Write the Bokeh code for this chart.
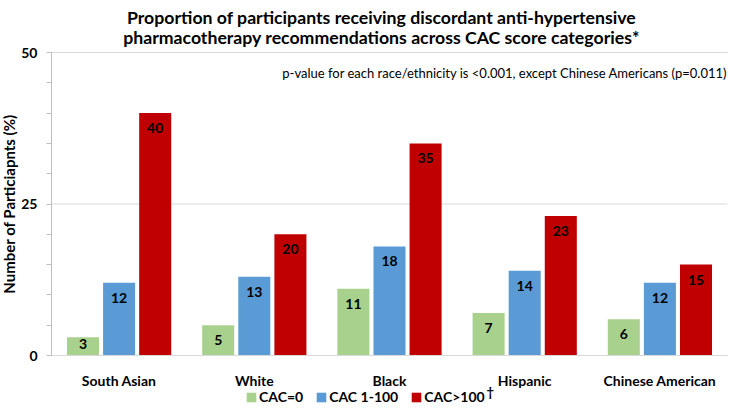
from bokeh.plotting import figure
from bokeh.models import (ColumnDataSource, FixedTicker, Range1d, Label, Legend, LegendItem)
from bokeh.core.properties import value
from bokeh.embed import file_html
from bokeh.resources import INLINE

# ---- data ----
groups = ["South Asian", "White", "Black", "Hispanic", "Chinese American"]
series_names = ["CAC=0", "CAC 1-100", "CAC>100"]
cac_0 = [3, 5, 11, 7, 6]
cac_1_100 = [12, 13, 18, 14, 12]
cac_gt_100 = [40, 20, 35, 23, 15]
y_major_ticks = [0, 25, 50]
y_minor_ticks = [5, 10, 15, 20, 30, 35, 40, 45]
title_lines = ["Proportion of participants receiving discordant anti-hypertensive",
               "pharmacotherapy recommendations across CAC score categories*"]
note_text = "p-value for each race/ethnicity is <0.001, except Chinese Americans (p=0.011)"
y_label = "Number of Particiapnts (%)"
dagger = "\u2020"

colors = ["#A9D18E", "#5B9BD5", "#C00000"]
FONT = "Lato"

# ---- layout (pixels) ----
W, H = 729, 408
PLOT_L, PLOT_R, PLOT_T, PLOT_B = 51, 727, 52, 355
ppx = (PLOT_R - PLOT_L) / 5.0          # px per category
ppy = (PLOT_B - PLOT_T) / 50.0         # px per y unit
x0, x1 = -0.5 - PLOT_L / ppx, 4.5 + (W - PLOT_R) / ppx
y0, y1 = -(H - PLOT_B) / ppy, 50 + PLOT_T / ppy

p = figure(width=W, height=H, x_range=Range1d(x0, x1), y_range=Range1d(y0, y1),
           output_backend="svg", toolbar_location=None, title=None,
           min_border_left=0, min_border_right=0, min_border_top=0, min_border_bottom=0)
p.outline_line_color = None
p.xgrid.visible = False
p.ygrid.visible = False

# gridlines (only inside the plot area)
grid_vals = [t for t in y_major_ticks if t > 0]
p.segment(x0=[-0.5] * len(grid_vals), x1=[4.5] * len(grid_vals), y0=grid_vals, y1=grid_vals,
          line_color="#D9D9D9", line_width=1)

offsets = [-0.267, 0.0, 0.267]
bar_w = 0.237
renderers = []
for k, vals in enumerate([cac_0, cac_1_100, cac_gt_100]):
    xs = [i + offsets[k] for i in range(len(groups))]
    off_px = [min(15.0, v * ppy - 12.0) for v in vals]
    ly = [v - o / ppy for v, o in zip(vals, off_px)]
    src = ColumnDataSource(dict(x=xs, top=vals, ly=ly, lab=[str(v) for v in vals]))
    r = p.vbar(x="x", top="top", width=bar_w, source=src, fill_color=colors[k], line_color=None)
    renderers.append(r)
    p.text(x="x", y="ly", text="lab", source=src, text_align="center", text_baseline="middle",
           text_font=value(FONT), text_font_size="14px", text_font_style="bold", text_color="black")

# axes drawn at fixed positions inside the canvas
p.xaxis.fixed_location = 0
p.xaxis.bounds = (-0.5, 4.5)
p.xaxis.ticker = FixedTicker(ticks=list(range(len(groups))))
p.xaxis.major_label_overrides = {i: g for i, g in enumerate(groups)}
p.xaxis.major_tick_line_color = None
p.xaxis.minor_tick_line_color = None
p.xaxis.major_tick_out = 0
p.xaxis.axis_line_color = "#D9D9D9"
p.xaxis.major_label_text_font = FONT
p.xaxis.major_label_text_font_size = "14px"
p.xaxis.major_label_text_font_style = "bold"
p.xaxis.major_label_text_color = "black"
p.xaxis.major_label_standoff = 16

p.yaxis.fixed_location = -0.5
p.yaxis.bounds = (0, 50)
p.yaxis.ticker = FixedTicker(ticks=y_major_ticks, minor_ticks=y_minor_ticks)
p.yaxis.axis_line_color = "#BFBFBF"
p.yaxis.major_tick_line_color = "#BFBFBF"
p.yaxis.minor_tick_line_color = "#BFBFBF"
p.yaxis.major_tick_out = 5
p.yaxis.major_tick_in = 0
p.yaxis.minor_tick_out = 5
p.yaxis.minor_tick_in = 0
p.yaxis.major_label_text_font = FONT
p.yaxis.major_label_text_font_size = "14px"
p.yaxis.major_label_text_font_style = "bold"
p.yaxis.major_label_text_color = "black"
p.yaxis.major_label_standoff = 9
p.yaxis.axis_label = y_label
p.yaxis.axis_label_standoff = 0
p.yaxis.axis_label_text_font = FONT
p.yaxis.axis_label_text_font_size = "15px"
p.yaxis.axis_label_text_font_style = "bold"
p.yaxis.axis_label_text_color = "black"

# titles
for txt, base_y in zip(title_lines, [17, 37]):
    p.add_layout(Label(x=381, y=H - base_y, x_units="screen", y_units="screen", text=txt,
                       text_align="center", text_baseline="alphabetic", text_font=FONT,
                       text_font_size="17.7px", text_font_style="bold", text_color="black"))

# note
p.add_layout(Label(x=727, y=H - 72, x_units="screen", y_units="screen",
                   text=note_text, text_align="right", text_baseline="middle", text_font=FONT,
                   text_font_size="13px", text_color="black"))

# legend
items = [LegendItem(label=n, renderers=[r]) for n, r in zip(series_names, renderers)]
legend = Legend(items=items, location=(245, 3), orientation="horizontal",
                border_line_color=None, background_fill_alpha=0, padding=0, margin=0,
                spacing=12, label_standoff=2, glyph_width=12, glyph_height=12, label_height=16,
                label_text_font=FONT, label_text_font_size="14px", label_text_font_style="bold",
                label_text_color="black")
p.add_layout(legend, "center")

# dagger superscript after "CAC>100"
p.add_layout(Label(x=486, y=H - 391, x_units="screen", y_units="screen", text=dagger,
                   text_align="left", text_baseline="middle", text_font=FONT,
                   text_font_size="13px", text_font_style="bold", text_color="black"))

open("out.html", "w").write(file_html(p, INLINE))
